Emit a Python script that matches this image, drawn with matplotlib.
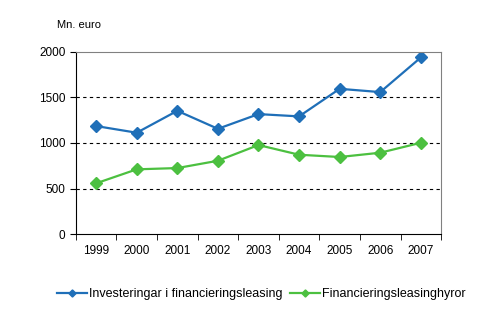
import numpy as np
import matplotlib
matplotlib.use("Agg")
from matplotlib import pyplot as plt

plt.rcParams['font.family'] = ['Liberation Sans', 'DejaVu Sans']

years = ['1999', '2000', '2001', '2002', '2003', '2004', '2005', '2006', '2007']
investeringar = [1185, 1112, 1352, 1155, 1316, 1291, 1593, 1557, 1936]
hyror = [558, 711, 725, 805, 977, 871, 846, 893, 1002]

blue = '#1f6fb8'
green = '#4cc040'

fig = plt.figure(figsize=(4.8, 3.29), dpi=100)
ax = fig.add_axes([0.158, 0.288, 0.761, 0.555])

x = np.arange(len(years))
ax.plot(x, investeringar, color=blue, lw=1.6, marker='D', ms=6,
        label='Investeringar i financieringsleasing')
ax.plot(x, hyror, color=green, lw=1.6, marker='D', ms=6,
        label='Financieringsleasinghyror')

ax.set_xlim(-0.5, len(years) - 0.5)
ax.set_ylim(0, 2000)
ax.set_yticks([0, 500, 1000, 1500, 2000])
ax.set_xticks(x)
ax.set_xticklabels(years)
ax.set_xticks(np.arange(-0.5, len(years)), minor=True)
ax.tick_params(axis='x', which='major', length=0, pad=8, labelsize=8.5)
ax.tick_params(axis='x', which='minor', length=4, color='black')
ax.tick_params(axis='y', length=4, labelsize=8.5, color='black')

for v in [500, 1000, 1500]:
    ax.axhline(v, color='black', lw=0.8, ls=(0, (3, 3)), zorder=0)

ax.spines['left'].set_color('black')
ax.spines['bottom'].set_color('black')
ax.spines['top'].set_color('#808080')
ax.spines['right'].set_color('#808080')

fig.text(0.118, 0.915, 'Mn. euro', fontsize=8)

fig.legend(loc='center', bbox_to_anchor=(0.545, 0.106), ncol=2, frameon=False,
           fontsize=9, handlelength=2.4, columnspacing=0.6, handletextpad=0.15,
           markerscale=0.6)

fig.savefig('out.png', dpi=100)
